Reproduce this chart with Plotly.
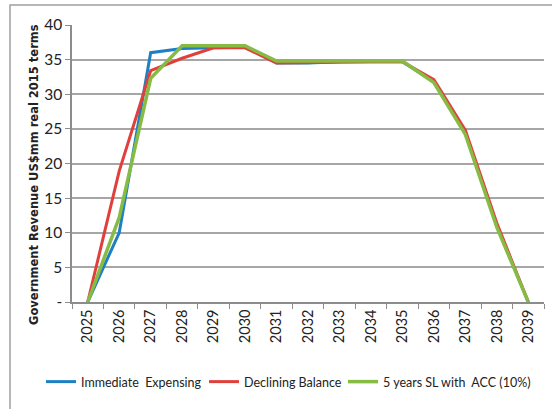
import plotly.graph_objects as go

years = [str(y) for y in range(2025, 2040)]
immediate = [0, 10.0, 36.0, 36.6, 36.7, 36.8, 34.5, 34.5, 34.7, 34.7, 34.7, 31.8, 24.5, 11.0, 0]
declining = [0, 18.9, 33.4, 35.2, 36.7, 36.7, 34.5, 34.6, 34.7, 34.7, 34.7, 32.1, 24.8, 11.4, 0]
sl_acc = [0, 12.2, 32.3, 37.0, 37.0, 37.0, 34.8, 34.8, 34.8, 34.8, 34.8, 31.7, 24.2, 10.8, 0]

series_names = ["Immediate  Expensing", "Declining Balance", "5 years SL with  ACC (10%)"]
series_values = [immediate, declining, sl_acc]
series_colors = ["#1f7fc4", "#e0403c", "#86bb44"]
series_widths = [3, 3, 3.5]
legend_ids = ["legend", "legend2", "legend3"]
legend_line_starts = [48, 211, 350]  # px, where each legend swatch begins

FONT = "Lato, Liberation Sans, sans-serif"
L, R, T, B = 72, 8, 25, 107
W, H = 552, 409
PW, PH = W - L - R, H - T - B

fig = go.Figure()
for name, vals, color, w, lid in zip(series_names, series_values, series_colors,
                                     series_widths, legend_ids):
    fig.add_trace(go.Scatter(x=years, y=vals, name=name, mode="lines", legend=lid,
                             line=dict(color=color, width=w)))

legend_common = dict(orientation="h", xanchor="left", yanchor="middle",
                     y=-(382 - (T + PH)) / PH, bgcolor="rgba(0,0,0,0)",
                     font=dict(family=FONT, size=12.5, color="#222"))
layout_legends = {}
for lid, xs in zip(legend_ids, legend_line_starts):
    layout_legends[lid] = dict(legend_common, x=(xs - 7 - L) / PW)

fig.update_layout(
    width=W, height=H,
    margin=dict(l=L, r=R, t=T, b=B),
    paper_bgcolor="white", plot_bgcolor="white",
    font=dict(family=FONT, size=13, color="#222"),
    showlegend=True,
    xaxis=dict(type="category", range=[-0.5, 14.5], tickangle=-90, automargin=False,
               showgrid=False, showline=True, linecolor="#8c8c8c", linewidth=1.5,
               ticks="outside", tickson="boundaries", ticklen=5, tickcolor="#8c8c8c",
               tickfont=dict(family=FONT, size=14.5, color="#222")),
    yaxis=dict(range=[0, 40], tickvals=[0, 5, 10, 15, 20, 25, 30, 35, 40],
               ticktext=["-", "5", "10", "15", "20", "25", "30", "35", "40"],
               automargin=False,
               showgrid=True, gridcolor="#a6a6a6", gridwidth=1.5,
               showline=True, linecolor="#8c8c8c", linewidth=1.5,
               ticks="outside", ticklen=5, tickcolor="#8c8c8c",
               tickfont=dict(family=FONT, size=15.5, color="#222")),
    **layout_legends,
)

# y-axis title as rotated annotation
fig.add_annotation(text="<b>Government Revenue US$mm real 2015 terms</b>",
                   xref="paper", yref="paper",
                   x=(34 - L) / PW, y=((T + PH) - 175) / PH,
                   xanchor="center", yanchor="middle", textangle=-90, showarrow=False,
                   font=dict(family="DejaVu Sans, sans-serif", size=11.5, color="#222"))

# chart-area border (left and top visible)
fig.add_shape(type="rect", xref="paper", yref="paper",
              x0=(10 - L) / PW, x1=1.2, y0=-1.0, y1=1 + (T - 5) / PH,
              line=dict(color="#a0a0a0", width=1.5), fillcolor="rgba(0,0,0,0)", layer="below")

fig.write_html("out.html", config={"displayModeBar": False},
               post_script="document.body.style.margin='0';document.body.style.padding='0';")
